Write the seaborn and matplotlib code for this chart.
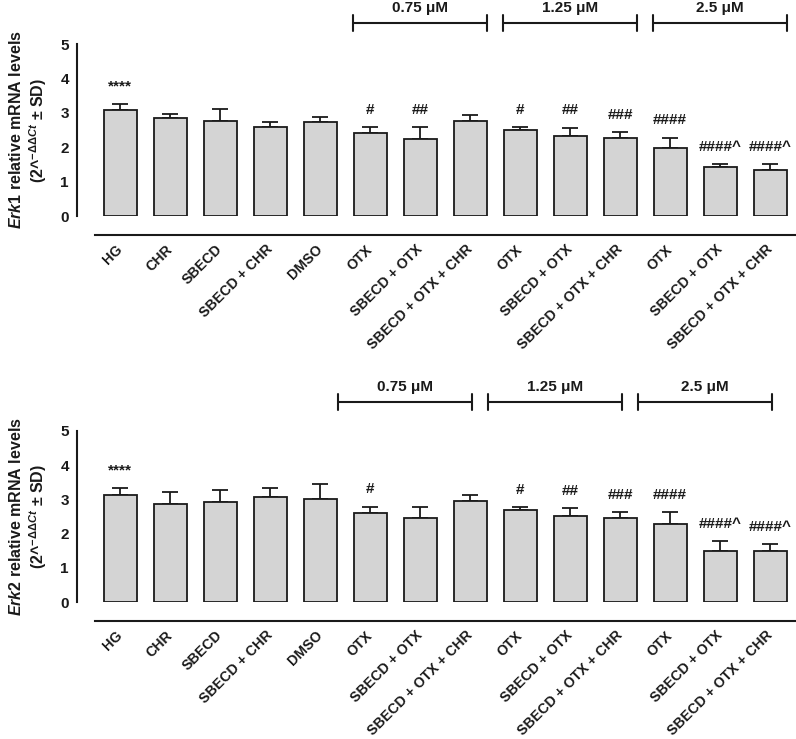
import numpy as np
import pandas as pd
import matplotlib
matplotlib.use("Agg")
import matplotlib.pyplot as plt
import seaborn as sns

# ---------------- data ----------------
keys = ["HG", "CHR", "SBECD", "SBECD+CHR", "DMSO",
        "OTX_075", "SBECD+OTX_075", "SBECD+OTX+CHR_075",
        "OTX_125", "SBECD+OTX_125", "SBECD+OTX+CHR_125",
        "OTX_25", "SBECD+OTX_25", "SBECD+OTX+CHR_25"]
tick_labels = ["HG", "CHR", "SBECD", "SBECD + CHR", "DMSO",
               "OTX", "SBECD + OTX", "SBECD + OTX + CHR",
               "OTX", "SBECD + OTX", "SBECD + OTX + CHR",
               "OTX", "SBECD + OTX", "SBECD + OTX + CHR"]

erk1_mean = [3.08, 2.84, 2.76, 2.58, 2.72, 2.41, 2.25, 2.76, 2.49, 2.32, 2.27, 1.97, 1.42, 1.35]
erk1_sd   = [0.18, 0.13, 0.34, 0.16, 0.15, 0.18, 0.33, 0.18, 0.09, 0.25, 0.16, 0.31, 0.10, 0.16]
erk1_sig  = ["****", "", "", "", "", "#", "##", "", "#", "##", "###", "####", "####^", "####^"]

erk2_mean = [3.12, 2.87, 2.91, 3.08, 3.02, 2.61, 2.45, 2.96, 2.70, 2.51, 2.46, 2.29, 1.49, 1.49]
erk2_sd   = [0.22, 0.34, 0.36, 0.26, 0.43, 0.18, 0.33, 0.17, 0.07, 0.25, 0.17, 0.35, 0.29, 0.21]
erk2_sig  = ["****", "", "", "", "", "#", "", "", "#", "##", "###", "####", "####^", "####^"]

dose_labels = ["0.75 \u03bcM", "1.25 \u03bcM", "2.5 \u03bcM"]
dose_groups = [(5, 7), (8, 10), (11, 13)]

# ---------------- style ----------------
sns.set_theme(style="white")
plt.rcParams["font.family"] = ["Liberation Sans", "DejaVu Sans"]
plt.rcParams["font.weight"] = "bold"
plt.rcParams["mathtext.fontset"] = "custom"
plt.rcParams["mathtext.rm"] = "Liberation Sans:bold"
plt.rcParams["mathtext.it"] = "Liberation Sans:italic:bold"
plt.rcParams["mathtext.bf"] = "Liberation Sans:bold"

BAR_FC = "#d4d4d4"
INK = "#1a1a1a"

fig = plt.figure(figsize=(7.96, 7.39), dpi=100)
ax_top = fig.add_axes([77 / 796, 1 - 216 / 739, 718 / 796, 172 / 739])
ax_bot = fig.add_axes([77 / 796, 1 - 602 / 739, 718 / 796, 171 / 739])


def draw_panel(ax, means, sds, sigs, gene, bracket_y, bracket_shift):
    df = pd.DataFrame({"cond": keys, "mean": means, "sd": sds})
    sns.barplot(data=df, x="cond", y="mean", order=keys, color=BAR_FC,
                saturation=1, edgecolor=INK, linewidth=1.3, width=0.66,
                errorbar=None, ax=ax, zorder=3)
    xs = np.arange(len(keys))
    ax.errorbar(xs, df["mean"], yerr=[np.zeros(len(keys)), df["sd"]],
                fmt="none", ecolor=INK, elinewidth=1.3, capsize=6,
                capthick=1.3, zorder=2)
    for x, m, s, t in zip(xs, df["mean"], df["sd"], sigs):
        if t:
            ax.text(x, m + s + 0.5, t, ha="center", va="center",
                    fontsize=11, fontweight="bold", color=INK)

    # spines first (set_position resets ticks)
    for side in ["top", "right"]:
        ax.spines[side].set_visible(False)
    ax.spines["left"].set_linewidth(1.5)
    ax.spines["left"].set_color(INK)
    ax.spines["bottom"].set_linewidth(1.5)
    ax.spines["bottom"].set_color(INK)
    ax.spines["bottom"].set_position(("outward", 13.7))
    ax.spines["bottom"].set_bounds(-0.5, 13.5)

    ax.set_ylim(0, 5)
    ax.set_yticks(range(0, 6))
    ax.set_xlim(-0.86, 13.5)
    ax.set_xticks(xs)
    ax.set_xticklabels(tick_labels)
    ax.tick_params(axis="y", labelsize=11, length=3.8, width=1.4,
                   direction="out", pad=2, colors=INK)
    ax.tick_params(axis="x", labelsize=10.2, length=3.8, width=1.4,
                   direction="out", pad=5, colors=INK)
    for lab in ax.get_xticklabels():
        lab.set_rotation(45)
        lab.set_ha("right")
        lab.set_va("center")
        lab.set_rotation_mode("anchor")
        lab.set_fontweight("bold")
    for lab in ax.get_yticklabels():
        lab.set_fontweight("bold")
    ax.set_xlabel("")
    ax.set_ylabel("$\\mathit{" + gene + "}$ relative mRNA levels\n"
                  "(2^$^{-\\Delta\\Delta Ct}$ \u00b1 SD)",
                  fontsize=11.5, fontweight="bold", color=INK,
                  linespacing=1.2, labelpad=8)
    ax.grid(False)

    for (i0, i1), lab in zip(dose_groups, dose_labels):
        x0 = i0 - 0.34 + bracket_shift
        x1 = i1 + 0.34 + bracket_shift
        ax.plot([x0, x1], [bracket_y, bracket_y], color=INK, lw=1.5,
                clip_on=False, solid_capstyle="butt")
        for xe in (x0, x1):
            ax.plot([xe, xe], [bracket_y - 0.23, bracket_y + 0.23],
                    color=INK, lw=1.5, clip_on=False)
        ax.text((x0 + x1) / 2, bracket_y + 0.44, lab, ha="center",
                va="center", fontsize=11, fontweight="bold", color=INK,
                clip_on=False)


draw_panel(ax_top, erk1_mean, erk1_sd, erk1_sig, "Erk1", 5.61, 0.0)
draw_panel(ax_bot, erk2_mean, erk2_sd, erk2_sig, "Erk2", 5.85, -0.3)

fig.savefig("out.png", dpi=100)
